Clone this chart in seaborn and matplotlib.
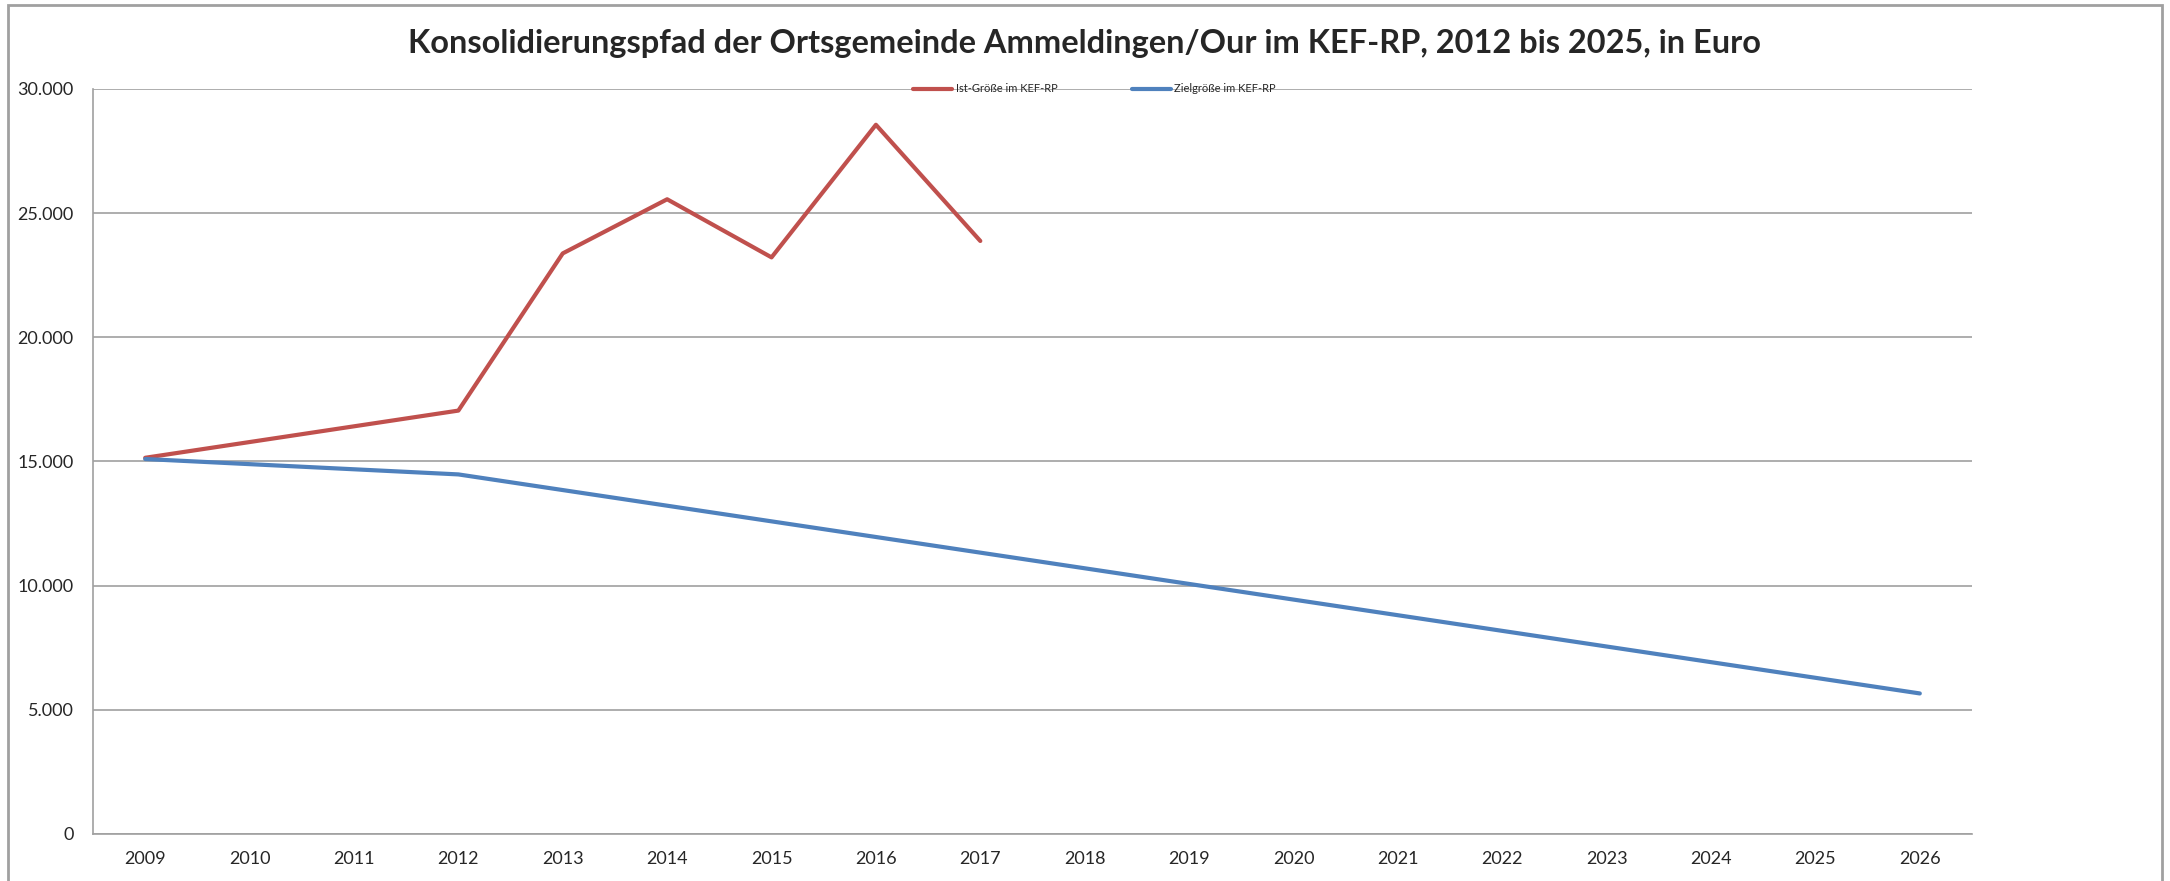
import numpy as np
import pandas as pd
import seaborn as sns
import matplotlib.pyplot as plt
from matplotlib.ticker import FuncFormatter, MultipleLocator
from matplotlib.patches import Rectangle

sns.set_style('white')
plt.rcParams['font.family'] = ['Lato', 'DejaVu Sans']

years = list(range(2009, 2027))
ist = [15150, np.nan, np.nan, 17050, 23380, 25560, 23220, 28560, 23880,
       np.nan, np.nan, np.nan, np.nan, np.nan, np.nan, np.nan, np.nan, np.nan]
ziel = [15100, np.nan, np.nan, 14480, 13850, 13220, 12590, 11960, 11330,
        10700, 10070, 9440, 8810, 8180, 7550, 6920, 6290, 5660]

labels = ['Ist-Größe im KEF-RP', 'Zielgröße im KEF-RP']
colors = ['#C0504D', '#4F81BD']

df = pd.DataFrame({'Jahr': years, labels[0]: ist, labels[1]: ziel})
long = df.melt(id_vars='Jahr', var_name='Reihe', value_name='Euro').dropna()

fig = plt.figure(figsize=(21.7, 8.81), dpi=100)
ax = fig.add_axes([93 / 2170, 1 - 834 / 881, (1972 - 93) / 2170, (834 - 89) / 881])

sns.lineplot(data=long, x='Jahr', y='Euro', hue='Reihe', hue_order=labels,
             palette=colors, linewidth=3, ax=ax)

grid_c = '#a0a0a0'
ax.set_xlim(2008.5, 2026.5)
ax.set_ylim(0, 30000)
ax.yaxis.set_major_locator(MultipleLocator(5000))
ax.yaxis.set_major_formatter(FuncFormatter(lambda v, p: f'{int(v):,}'.replace(',', '.')))
ax.set_xticks(years)
ax.set_xticks([y + 0.5 for y in [2008] + years], minor=True)
ax.tick_params(axis='x', which='major', length=0, pad=12, labelsize=13)
ax.tick_params(axis='x', which='minor', length=6, color=grid_c, direction='out')
ax.tick_params(axis='y', length=6, color=grid_c, direction='out', labelsize=13, pad=8)
ax.set_xlabel('')
ax.set_ylabel('')
ax.yaxis.grid(True, color=grid_c, linewidth=1.2)
for s in ['top', 'right']:
    ax.spines[s].set_visible(False)
for s in ['left', 'bottom']:
    ax.spines[s].set_color(grid_c)
    ax.spines[s].set_linewidth(1.2)

ax.legend(loc='center', bbox_to_anchor=(0.533, 1.0), ncol=2, frameon=False,
          fontsize=8, handlelength=3.5, columnspacing=6.7, handletextpad=0.3)

fig.text(0.5, 1 - 44 / 881, 'Konsolidierungspfad der Ortsgemeinde Ammeldingen/Our im KEF-RP, 2012 bis 2025, in Euro',
         ha='center', va='center', fontsize=23.4, fontweight='bold')

fig.patches.append(Rectangle((8 / 2170, -0.01), (2162 - 8) / 2170, 1 - 5 / 881 + 0.01,
                             transform=fig.transFigure, fill=False, edgecolor='#a0a0a0', linewidth=2))

fig.savefig('out.png', dpi=100)
